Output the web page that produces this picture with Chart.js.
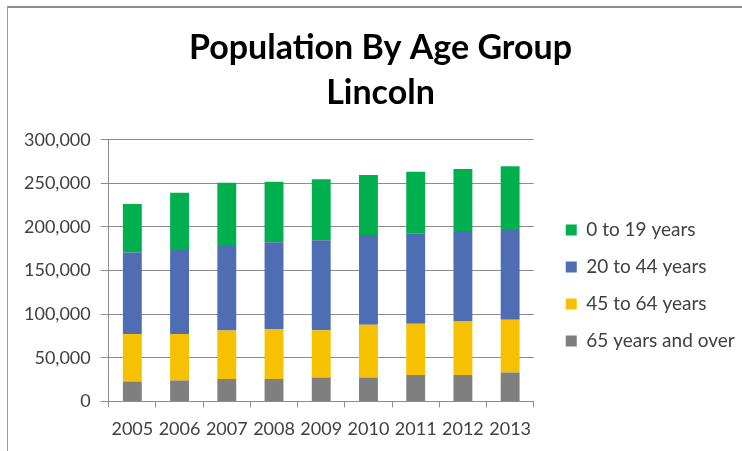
<!DOCTYPE html>
<html>
<head>
<meta charset="utf-8">
<script src="https://cdn.jsdelivr.net/npm/chart.js@4.4.1/dist/chart.umd.min.js"></script>
<style>
  html, body { margin: 0; padding: 0; background: #fff; }
  #wrap { position: relative; width: 742px; height: 451px; }
  #frame { position: absolute; left: 7px; top: 6px; right: 0; bottom: 0;
           border-top: 2px solid #8c8c8c; border-left: 1px solid #9a9a9a; }
  canvas { position: absolute; left: 0; top: 0; }
</style>
</head>
<body>
<div id="wrap">
  <div id="frame"></div>
  <canvas id="popChart" width="742" height="451"></canvas>
</div>
<script>
const years = ['2005', '2006', '2007', '2008', '2009', '2010', '2011', '2012', '2013'];
const age0to19 = [55800, 65600, 71300, 69400, 70100, 68700, 70600, 71000, 72900];
const age20to44 = [93400, 96500, 98100, 99600, 103000, 103100, 103800, 103800, 103100];
const age45to64 = [54300, 53200, 55700, 57300, 54200, 60300, 58800, 61400, 60300];
const age65plus = [22900, 24000, 25600, 25600, 27500, 27500, 30200, 30200, 33200];
const yTicks = [0, 50000, 100000, 150000, 200000, 250000, 300000];

const textColor = '#404040';
const gridColor = '#8c8c8c';
const font = 'Lato, "Open Sans", sans-serif';

// nudge title and legend to where the original sits
const nudge = {
    id: 'nudge',
    afterLayout(chart) {
        const t = chart.titleBlock;
        t.left += 20; t.right += 20;
        const l = chart.legend;
        l.left += 14; l.right += 40;
        l.top += 47; l.bottom += 47;
    }
};

const ctx = document.getElementById('popChart').getContext('2d');

const popChart = new Chart(ctx, {
    type: 'bar',
    data: {
        labels: years,
        datasets: [
            { label: '65 years and over', data: age65plus, backgroundColor: '#7f7f7f' },
            { label: '45 to 64 years', data: age45to64, backgroundColor: '#f6c100' },
            { label: '20 to 44 years', data: age20to44, backgroundColor: '#4e6db3' },
            { label: '0 to 19 years', data: age0to19, backgroundColor: '#00b04f' }
        ]
    },
    plugins: [nudge],
    options: {
        responsive: false,
        animation: false,
        devicePixelRatio: 1,
        barPercentage: 0.4,
        categoryPercentage: 1,
        layout: { padding: { left: 14, right: 35, top: 26, bottom: 0 } },
        scales: {
            x: {
                stacked: true,
                grid: { display: true, drawOnChartArea: false, drawTicks: true, tickLength: 6, color: gridColor },
                border: { color: gridColor },
                ticks: { color: textColor, font: { family: font, size: 18 }, padding: 11, maxRotation: 0 }
            },
            y: {
                stacked: true,
                min: 0,
                max: 300000,
                afterBuildTicks: axis => { axis.ticks = yTicks.map(v => ({ value: v })); },
                grid: { color: gridColor, tickLength: 8 },
                border: { color: gridColor },
                ticks: {
                    color: textColor,
                    font: { family: font, size: 18 },
                    padding: 10,
                    callback: v => v.toLocaleString('en-US')
                }
            }
        },
        plugins: {
            title: {
                display: true,
                text: ['Population By Age Group', 'Lincoln'],
                color: '#000',
                font: { family: font, size: 34, weight: 'bold', lineHeight: 1.32 },
                padding: { top: 0, bottom: 24 }
            },
            legend: {
                position: 'right',
                reverse: true,
                labels: {
                    color: textColor,
                    font: { family: font, size: 19 },
                    boxWidth: 11,
                    boxHeight: 11,
                    padding: 18
                }
            },
            tooltip: { enabled: false }
        }
    }
});
</script>
</body>
</html>
